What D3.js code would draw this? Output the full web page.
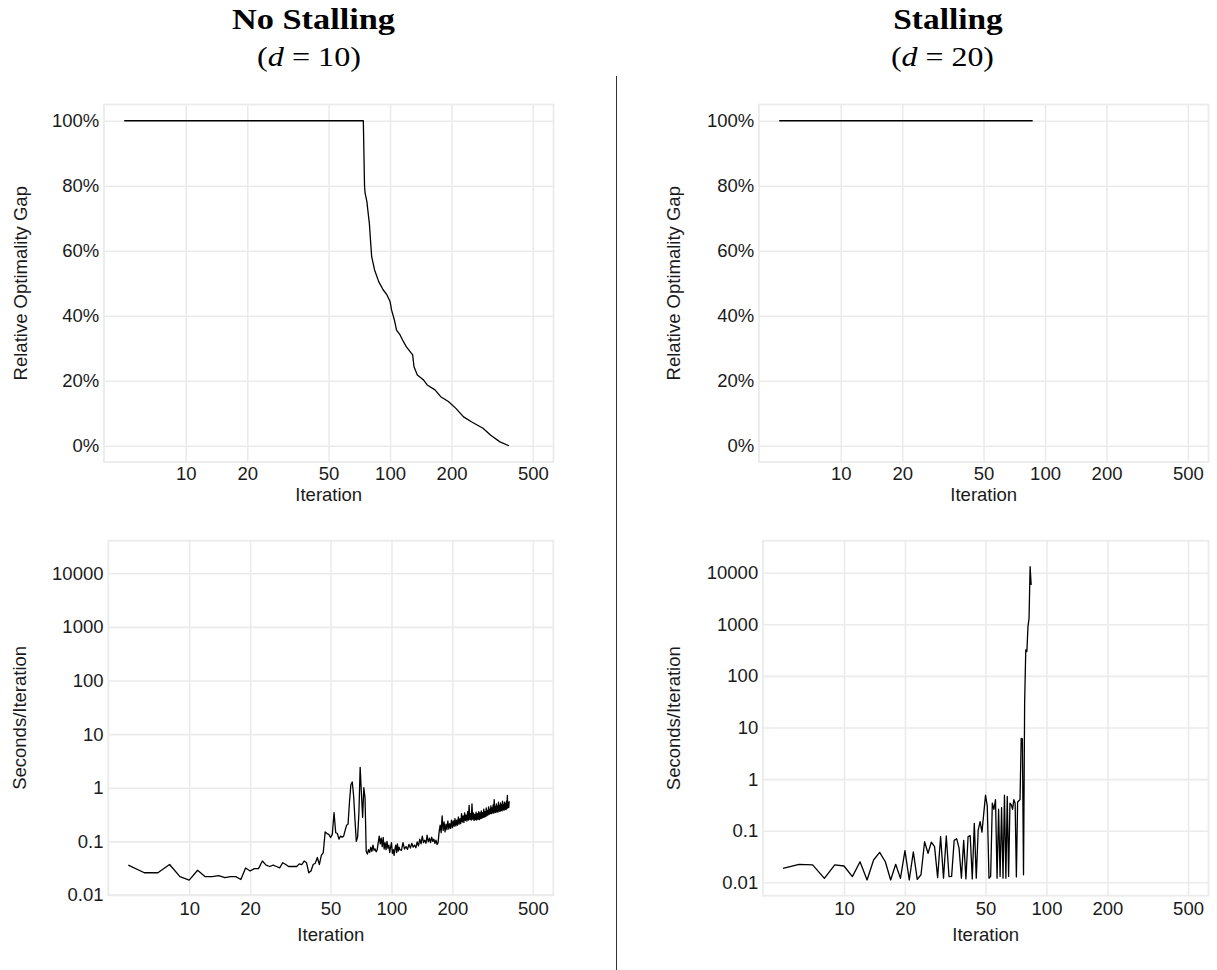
<!DOCTYPE html>
<html>
<head>
<meta charset="utf-8">
<script src="https://cdn.jsdelivr.net/npm/d3@7"></script>
<style>
  html, body { margin: 0; padding: 0; background: #ffffff; }
  svg { display: block; }
  .tick text { font-family: "Liberation Sans", Arial, sans-serif; font-size: 18.5px; fill: #1a1a1a; }
  .axis-title { font-family: "Liberation Sans", Arial, sans-serif; font-size: 18.5px; fill: #1a1a1a; }
  .col-title { font-family: "Liberation Serif", "Times New Roman", serif; fill: #000; }
</style>
</head>
<body>
<svg id="fig" width="1217" height="970"></svg>
<script>
// Shared iteration axis (log scale)
const iterTicks = [10, 20, 50, 100, 200, 500];

// Relative optimality gap axis
const gapTicks = [0, 0.2, 0.4, 0.6, 0.8, 1];

// Seconds per iteration axis (log scale)
const secTicks = [0.01, 0.1, 1, 10, 100, 1000, 10000];
const secTickLabels = ["0.01", "0.1", "1", "10", "100", "1000", "10000"];

// Column headings
const colTitles = ["No Stalling", "Stalling"];
const colDims = ["10", "20"];

// No stalling (d = 10): relative optimality gap
const gapNoStallIter = [5, 74, 75, 75.5, 77, 78.5, 79.2, 80, 81.3, 84, 88, 92.5, 96.6, 100, 101.7,
  105, 107.6, 112, 115, 120, 127, 129, 131, 136, 146, 152, 166, 177, 193, 210, 229, 250, 285,
  310, 345, 382];
const gapNoStallValue = [1, 1, 0.80, 0.777, 0.752, 0.705, 0.685, 0.644, 0.582, 0.541, 0.505, 0.480,
  0.464, 0.444, 0.418, 0.387, 0.356, 0.341, 0.326, 0.305, 0.285, 0.280, 0.243, 0.218, 0.202, 0.187,
  0.172, 0.151, 0.136, 0.115, 0.089, 0.074, 0.054, 0.033, 0.012, 0.0];

// Stalling (d = 20): relative optimality gap
const gapStallIter = [5, 87];
const gapStallValue = [1, 1];

// No stalling (d = 10): seconds per iteration
const secNoStallIter = [5, 6, 7, 8, 9, 10, 11, 12, 13, 14, 15, 16, 17, 18, 19, 20, 21, 22, 23, 24,
  25, 26, 27, 28, 29, 30, 31, 32, 33, 34, 35, 36, 37, 38, 39, 40, 41, 42, 43, 44, 45, 46, 47, 48,
  49, 50, 51, 52, 53, 54, 55, 56, 57, 58, 59, 60, 61, 62, 63, 64, 65, 66, 67, 68, 69, 70, 71, 72,
  73, 74, 75, 76, 77, 78, 79, 80, 81, 82, 83, 84, 85, 86, 87, 88, 89, 90, 91, 92, 93, 94, 95, 96,
  97, 98, 99, 100, 101, 102, 103, 104, 105, 106, 107, 108, 109, 110, 112, 114, 116, 118, 120, 122,
  124, 126, 128, 130, 132, 134, 136, 138, 140, 142, 144, 146, 148, 150, 152, 154, 156, 158, 160,
  162, 164, 166, 168,
  170, 172, 174, 176, 178, 180, 182, 184, 186, 188, 190, 192, 194, 196, 198,
  200, 202, 204, 206, 208, 210, 212, 214, 216, 218, 220, 222, 224, 226, 228, 230, 232, 234, 236,
  238, 240, 242, 244, 246, 248, 250, 252, 254, 256, 258, 260, 262, 264, 266, 268, 270, 272, 274,
  276, 278, 280, 282, 284, 286, 288, 290, 292, 294, 296, 298, 300, 302, 304, 306, 308, 310, 312,
  314, 316, 318, 320, 322, 324, 326, 328, 330, 332, 334, 336, 338, 340, 342, 344, 346, 348, 350,
  352, 354, 356, 358, 360, 362, 364, 366, 368, 370, 372, 374, 376, 378, 380, 382];
const secNoStallValue = [0.036, 0.026, 0.026, 0.037, 0.022, 0.019, 0.029, 0.022, 0.022, 0.023,
  0.021, 0.022, 0.022, 0.0195, 0.032, 0.028, 0.031, 0.031, 0.043, 0.036, 0.034, 0.036, 0.034,
  0.032, 0.040, 0.037, 0.034, 0.034, 0.034, 0.034, 0.038, 0.037, 0.043, 0.040, 0.026, 0.028,
  0.037, 0.039, 0.050, 0.037, 0.055, 0.062, 0.150, 0.140, 0.135, 0.118, 0.135, 0.345, 0.145,
  0.140, 0.110, 0.125, 0.120, 0.125, 0.160, 0.200, 0.210, 0.55, 1.15, 1.28, 0.70, 0.25, 0.10,
  0.12, 0.33, 2.40, 0.80, 0.28, 1.00, 0.65, 0.065, 0.058, 0.070, 0.062, 0.078, 0.065, 0.085,
  0.068, 0.072, 0.064, 0.070, 0.095, 0.125, 0.090, 0.115, 0.080, 0.118, 0.072, 0.095, 0.070,
  0.100, 0.075, 0.085, 0.062, 0.078, 0.095, 0.060, 0.070, 0.055, 0.072, 0.085, 0.062, 0.090,
  0.066, 0.078, 0.070, 0.068, 0.095, 0.072, 0.080, 0.071, 0.088, 0.075, 0.092, 0.078, 0.085,
  0.076, 0.098, 0.082, 0.110, 0.090, 0.125, 0.095, 0.105, 0.092, 0.130, 0.098, 0.115, 0.095,
  0.120, 0.100, 0.110, 0.092, 0.105, 0.088,
  0.095, 0.150, 0.200, 0.145, 0.300, 0.160, 0.230, 0.150, 0.210, 0.165, 0.240, 0.170, 0.215,
  0.175, 0.250, 0.180, 0.240, 0.190, 0.265, 0.195, 0.250, 0.200, 0.285, 0.210, 0.265, 0.215,
  0.330, 0.230, 0.300, 0.225, 0.340, 0.245, 0.310, 0.240, 0.360, 0.250, 0.470, 0.255, 0.330,
  0.250, 0.500, 0.260, 0.340, 0.245, 0.320, 0.255, 0.350, 0.250, 0.330, 0.260, 0.360, 0.255,
  0.340, 0.265, 0.370, 0.270, 0.345, 0.280, 0.400, 0.285, 0.360, 0.290, 0.420, 0.300, 0.380,
  0.310, 0.440, 0.320, 0.400, 0.330, 0.460, 0.330, 0.420, 0.340, 0.480, 0.335, 0.600, 0.350,
  0.450, 0.345, 0.500, 0.360, 0.460, 0.350, 0.540, 0.370, 0.470, 0.360, 0.520, 0.380, 0.490,
  0.370, 0.560, 0.390, 0.480, 0.380, 0.540, 0.400, 0.500, 0.390, 0.560, 0.410, 0.720, 0.420,
  0.520, 0.430, 0.560];

// Stalling (d = 20): seconds per iteration
const secStallIter = [5, 6, 7, 8, 9, 10, 11, 12, 13, 14, 15, 16, 17, 18, 19, 20, 21, 22, 23, 24, 25,
  26, 27, 28, 29, 30, 31, 32, 33, 34, 35, 36, 37, 38, 39, 40, 41, 42, 43, 44, 45, 46, 47, 48, 49,
  50, 51, 52, 53, 54, 55, 56, 57, 58, 59, 60, 61, 62, 63, 64, 65, 66, 67, 68, 69, 70, 71, 72, 73,
  74, 75, 76, 77, 78, 79, 80, 81, 82, 83, 84, 85, 86, 87, 88];
const secStallValue = [0.0186, 0.0223, 0.0217, 0.0119, 0.0217, 0.0207, 0.0129, 0.025, 0.0111,
  0.027, 0.038, 0.025, 0.0111, 0.0223, 0.0119, 0.041, 0.0111, 0.039, 0.0114, 0.014, 0.061,
  0.0365, 0.060, 0.049, 0.0123, 0.077, 0.012, 0.079, 0.0129, 0.013, 0.065, 0.070, 0.046, 0.012,
  0.065, 0.0116, 0.077, 0.080, 0.0116, 0.139, 0.012, 0.103, 0.150, 0.094, 0.217, 0.49, 0.30,
  0.012, 0.013, 0.34, 0.26, 0.40, 0.012, 0.26, 0.013, 0.28, 0.012, 0.49, 0.012, 0.46, 0.013,
  0.34, 0.32, 0.26, 0.40, 0.34, 0.0127, 0.36, 0.38, 0.40, 6.15, 6.0, 0.014, 31.6, 318, 296, 898,
  1303, 13060, 5770];

const svg = d3.select("#fig");

const panels = [
  { x0: 104, x1: 553.5, y0: 104.5, y1: 462, kind: "gap", iters: gapNoStallIter, vals: gapNoStallValue,
    titleX: 21, ytitle: "Relative Optimality Gap", xlabPad: 4.5, xtitleY: 495 },
  { x0: 759, x1: 1208.5, y0: 104.5, y1: 462, kind: "gap", iters: gapStallIter, vals: gapStallValue,
    titleX: 674, ytitle: "Relative Optimality Gap", xlabPad: 4.5, xtitleY: 495 },
  { x0: 108.3, x1: 553.3, y0: 540.7, y1: 895, kind: "sec", yLogMin: -2, yLogMax: 4.607,
    iters: secNoStallIter, vals: secNoStallValue, titleX: 20, ytitle: "Seconds/Iteration",
    xlabPad: 6.5, xtitleY: 935 },
  { x0: 763, x1: 1208.5, y0: 540.7, y1: 895.7, kind: "sec", yLogMin: -2.26, yLogMax: 4.62,
    iters: secStallIter, vals: secStallValue, titleX: 674, ytitle: "Seconds/Iteration",
    xlabPad: 5.8, xtitleY: 935 }
];

const gridColor = "#ebebeb";

panels.forEach(p => {
  const x = d3.scaleLog().domain([Math.pow(10, 0.6), Math.pow(10, 2.8)]).range([p.x0, p.x1]);
  let y, yTicks, yFmt;
  if (p.kind === "gap") {
    y = d3.scaleLinear().domain([-0.05, 1.05]).range([p.y1, p.y0]);
    yTicks = gapTicks;
    yFmt = d => Math.round(d * 100) + "%";
  } else {
    y = d3.scaleLog().domain([Math.pow(10, p.yLogMin), Math.pow(10, p.yLogMax)]).range([p.y1, p.y0]);
    yTicks = secTicks;
    yFmt = d => secTickLabels[secTicks.indexOf(d)];
  }
  const w = p.x1 - p.x0, h = p.y1 - p.y0;
  const g = svg.append("g");

  // Grid lines
  g.append("g")
    .attr("transform", `translate(0,${p.y1})`)
    .call(d3.axisBottom(x).tickValues(iterTicks).tickSize(-h).tickFormat(""))
    .call(a => a.select(".domain").remove())
    .call(a => a.selectAll("line").attr("stroke", gridColor).attr("stroke-width", 1.6));
  g.append("g")
    .attr("transform", `translate(${p.x0},0)`)
    .call(d3.axisLeft(y).tickValues(yTicks).tickSize(-w).tickFormat(""))
    .call(a => a.select(".domain").remove())
    .call(a => a.selectAll("line").attr("stroke", gridColor).attr("stroke-width", 1.6));

  // Panel border
  g.append("rect")
    .attr("x", p.x0).attr("y", p.y0).attr("width", w).attr("height", h)
    .attr("fill", "none").attr("stroke", gridColor).attr("stroke-width", 1.8);

  // Tick labels
  g.append("g")
    .attr("transform", `translate(0,${p.y1})`)
    .call(d3.axisBottom(x).tickValues(iterTicks).tickSize(0).tickPadding(p.xlabPad).tickFormat(d3.format("d")))
    .call(a => a.select(".domain").remove());
  g.append("g")
    .attr("transform", `translate(${p.x0},0)`)
    .call(d3.axisLeft(y).tickValues(yTicks).tickSize(0).tickPadding(4.8).tickFormat(yFmt))
    .call(a => a.select(".domain").remove());

  // Axis titles
  g.append("text").attr("class", "axis-title")
    .attr("x", (p.x0 + p.x1) / 2).attr("y", p.xtitleY).attr("dy", "0.35em")
    .attr("text-anchor", "middle").text("Iteration");
  g.append("text").attr("class", "axis-title")
    .attr("transform", `translate(${p.titleX},${(p.y0 + p.y1) / 2}) rotate(-90)`)
    .attr("dy", "0.35em").attr("text-anchor", "middle").text(p.ytitle);

  // Series line
  const pts = p.iters.map((it, i) => ({ it, v: p.vals[i] }));
  g.append("path")
    .datum(pts)
    .attr("fill", "none").attr("stroke", "#000").attr("stroke-width", 1.3)
    .attr("stroke-linejoin", "round")
    .attr("d", d3.line().x(d => x(d.it)).y(d => y(d.v)));
});

// Column headings
const heads = [
  { cx1: 313.5, cx2: 309, w1: 163, w2: 104 },
  { cx1: 948, cx2: 942.5, w1: 109.5, w2: 103 }
];
heads.forEach((hd, i) => {
  svg.append("text").attr("class", "col-title")
    .attr("x", hd.cx1).attr("y", 29).attr("text-anchor", "middle")
    .attr("font-size", 30).attr("font-weight", "bold")
    .attr("textLength", hd.w1).attr("lengthAdjust", "spacingAndGlyphs")
    .text(colTitles[i]);
  const t = svg.append("text").attr("class", "col-title")
    .attr("x", hd.cx2).attr("y", 66).attr("text-anchor", "middle")
    .attr("font-size", 27)
    .attr("textLength", hd.w2).attr("lengthAdjust", "spacingAndGlyphs");
  t.append("tspan").text("(");
  t.append("tspan").attr("font-style", "italic").text("d");
  t.append("tspan").text(" = " + colDims[i] + ")");
});

// Column divider
svg.append("line")
  .attr("x1", 616.5).attr("x2", 616.5).attr("y1", 76).attr("y2", 970)
  .attr("stroke", "#333").attr("stroke-width", 1);
</script>
</body>
</html>
